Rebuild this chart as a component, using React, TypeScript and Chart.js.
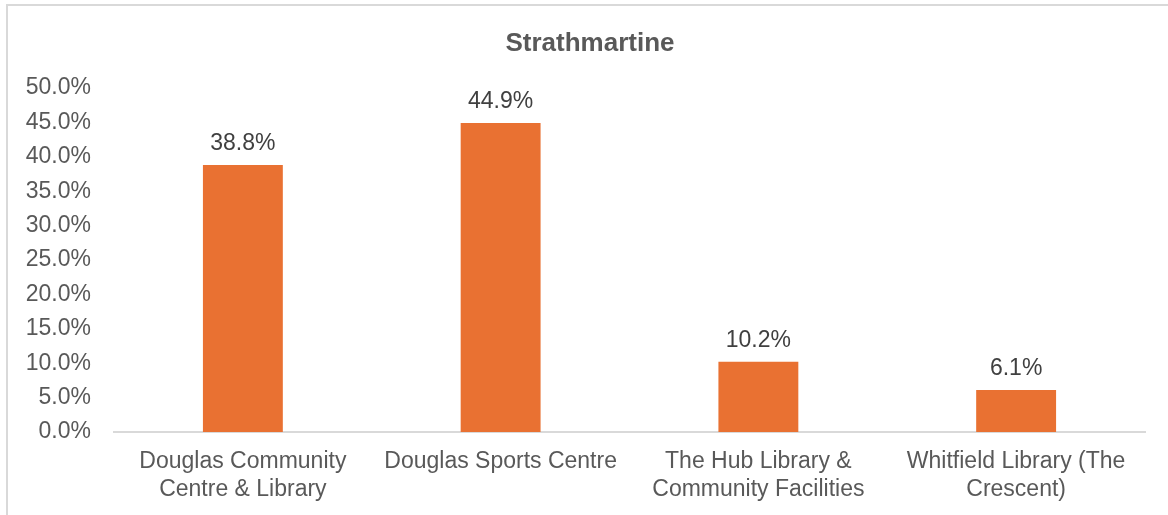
import React, { useEffect, useRef } from "react";
import { Chart, registerables } from "chart.js";

Chart.register(...registerables);

const categories: string[][] = [
  ["Douglas Community", "Centre & Library"],
  ["Douglas Sports Centre"],
  ["The Hub Library &", "Community Facilities"],
  ["Whitfield Library (The", "Crescent)"],
];
const values: number[] = [38.8, 44.9, 10.2, 6.1];
const chartTitle = "Strathmartine";
const yMax = 50;
const yStep = 5;

const FONT = "'Liberation Sans', Arial, sans-serif";

const labelPlugin = {
  id: "barLabels",
  afterDatasetsDraw(chart: any) {
    const ctx = chart.ctx;
    const meta = chart.getDatasetMeta(0);
    ctx.save();
    ctx.font = `23px ${FONT}`;
    ctx.fillStyle = "#404040";
    ctx.textAlign = "center";
    ctx.textBaseline = "middle";
    meta.data.forEach((bar: any, i: number) => {
      ctx.fillText(values[i].toFixed(1) + "%", bar.x, bar.y - 21);
    });
    ctx.font = `bold 26px ${FONT}`;
    ctx.fillStyle = "#595959";
    ctx.fillText(chartTitle, 590, 44);
    ctx.restore();
  },
};

export default function App() {
  const ref = useRef<HTMLCanvasElement>(null);
  useEffect(() => {
    if (!ref.current) return;
    const chart = new Chart(ref.current, {
      type: "bar",
      data: {
        labels: categories,
        datasets: [
          {
            data: values,
            backgroundColor: "#E97132",
            categoryPercentage: 1,
            barPercentage: 0.31,
          },
        ],
      },
      options: {
        animation: false,
        responsive: false,
        maintainAspectRatio: false,
        layout: { padding: { left: 0, right: 23, top: 88, bottom: 0 } },
        plugins: {
          legend: { display: false },
          tooltip: { enabled: false },
          title: { display: false },
        },
        scales: {
          x: {
            grid: { display: false, drawTicks: false },
            border: { display: true, color: "#D9D9D9", width: 2 },
            ticks: {
              color: "#595959",
              font: { family: FONT, size: 23, lineHeight: 1.2 },
              maxRotation: 0,
              autoSkip: false,
              padding: 16,
            },
            afterFit(scale: any) {
              scale.height = 83;
            },
          },
          y: {
            min: 0,
            max: yMax,
            grid: { display: false, drawTicks: false },
            border: { display: false },
            ticks: {
              stepSize: yStep,
              color: "#595959",
              font: { family: FONT, size: 23 },
              padding: 23,
              callback: (v: any) => Number(v).toFixed(1) + "%",
            },
            afterFit(scale: any) {
              scale.width = 114;
            },
          },
        },
      },
      plugins: [labelPlugin],
    });
    return () => chart.destroy();
  }, []);
  return (
    <div style={{ position: "absolute", left: 0, top: 0, width: 1168, height: 515, background: "#fff", overflow: "hidden" }}>
      <div
        style={{
          position: "absolute",
          left: 6,
          top: 4,
          width: 1200,
          height: 600,
          borderLeft: "2px solid #D9D9D9",
          borderTop: "2px solid #D9D9D9",
        }}
      />
      <canvas ref={ref} width={1168} height={515} style={{ position: "absolute", left: 0, top: 0 }} />
    </div>
  );
}
